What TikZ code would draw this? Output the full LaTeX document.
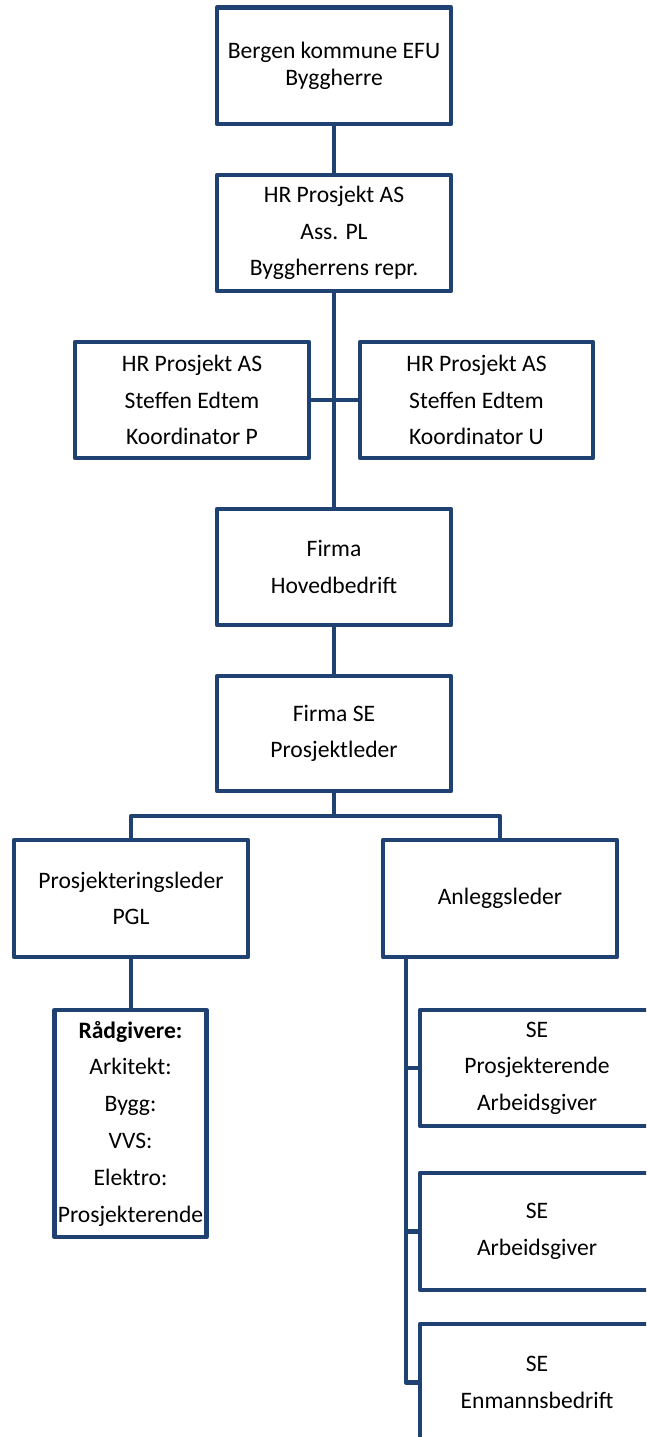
\documentclass[tikz,border=0pt]{standalone}
\usepackage{fontspec}
\setmainfont{Carlito}
\definecolor{boxblue}{HTML}{1F4273}
\tikzset{
  orgbox/.style={draw=boxblue, line width=4.5pt, fill=white, rectangle,
    minimum width=234pt, minimum height=116pt, inner sep=0pt, align=center,
    font=\fontsize{23.6}{36.5}\selectfont, text=black, line join=round},
  conn/.style={draw=boxblue, line width=4.5pt, line join=round}
}
\begin{document}
\begin{tikzpicture}[x=1pt,y=-1pt]
\fill[white] (0,0) rectangle (646,1437);
\clip (0,0) rectangle (646,1437);
\node[orgbox, minimum height=116.5pt, font=\fontsize{23.6}{27}\selectfont] (b1) at (334,65.75) {Bergen kommune EFU\\Byggherre};
\node[orgbox] (b2) at (334,233) {HR Prosjekt AS\\Ass. PL\\Byggherrens repr.};
\node[orgbox] (b3l) at (192,400) {HR Prosjekt AS\\Steffen Edtem\\Koordinator P};
\node[orgbox, minimum width=233pt] (b3r) at (476.5,400) {HR Prosjekt AS\\Steffen Edtem\\Koordinator U};
\node[orgbox] (b4) at (334,567) {Firma\\Hovedbedrift};
\node[orgbox, minimum height=115pt] (b5) at (334,733.5) {Firma SE\\Prosjektleder};
\node[orgbox, minimum height=117pt] (pgl) at (131,898.5) {Prosjekteringsleder\\[-1pt]PGL};
\node[orgbox, minimum height=117pt] (anl) at (500,898.5) {Anleggsleder};
\node[orgbox, minimum width=152pt, minimum height=227pt, font=\fontsize{23.6}{36.8}\selectfont] (rad) at (130.5,1123.5) {\textbf{Rådgivere:}\\Arkitekt:\\Bygg:\\VVS:\\Elektro:\\Prosjekterende};
\node[orgbox] (se1) at (537,1068) {SE\\Prosjekterende\\Arbeidsgiver};
\node[orgbox, minimum height=117pt] (se2) at (537,1231.5) {SE\\Arbeidsgiver};
\node[orgbox, minimum height=117pt] (se3) at (537,1382.5) {SE\\Enmannsbedrift};
\coordinate (bus) at (334,816);
\coordinate (spine) at (406,957);
\draw[conn] (b1.south) -- (b2.north);
\draw[conn] (b2.south) -- (b4.north);
\draw[conn] (b3l.east) -- (b3r.west);
\draw[conn] (b4.south) -- (b5.north);
\draw[conn] (b5.south) -- (bus);
\draw[conn] (pgl.north) |- (bus) -| (anl.north);
\draw[conn] (pgl.south) -- (pgl.south |- rad.north);
\draw[conn] (spine) |- (se3.west);
\draw[conn] (spine |- se1.west) -- (se1.west);
\draw[conn] (spine |- se2.west) -- (se2.west);
\end{tikzpicture}
\end{document}
